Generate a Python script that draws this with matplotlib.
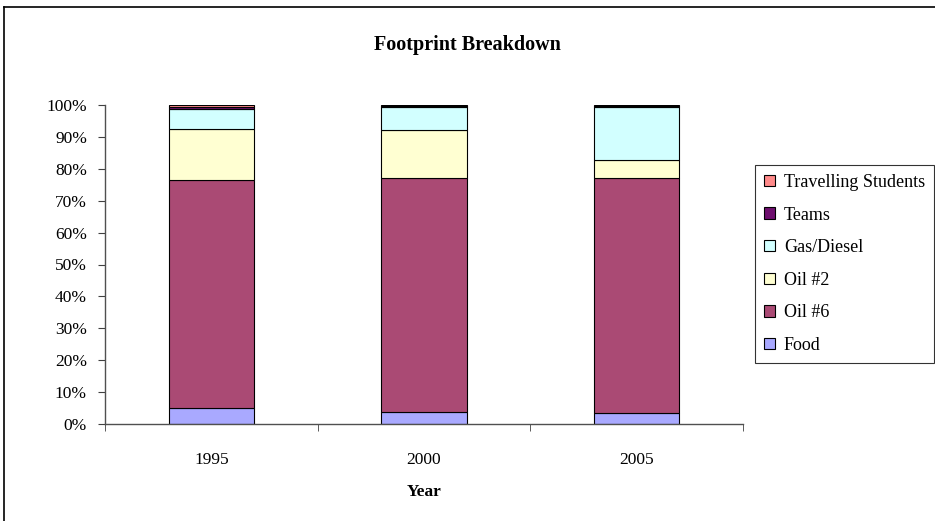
import matplotlib
matplotlib.use("Agg")
import matplotlib.pyplot as plt
from matplotlib.lines import Line2D
from matplotlib.ticker import FuncFormatter, MultipleLocator
import numpy as np

plt.rcParams['font.family'] = ['Liberation Serif', 'DejaVu Serif']

years = ["1995", "2000", "2005"]
series_names = ["Food", "Oil #6", "Oil #2", "Gas/Diesel", "Teams", "Travelling Students"]
food = [4.9, 3.9, 3.4]
oil6 = [71.7, 73.1, 73.6]
oil2 = [15.9, 15.1, 5.8]
gas_diesel = [6.3, 7.4, 16.7]
teams = [0.5, 0.2, 0.1]
travelling = [0.7, 0.3, 0.4]
colors = ["#A9A9FF", "#AA4A74", "#FFFFD2", "#D2FFFF", "#6E0F6E", "#FF8A8A"]

data = np.array([food, oil6, oil2, gas_diesel, teams, travelling], dtype=float)
shares = data / data.sum(axis=0) * 100.0

fig = plt.figure(figsize=(9.35, 5.21), dpi=100)
ax = fig.add_axes([105 / 935, 1 - 424 / 521, (743 - 105) / 935, (424 - 105) / 521])

x = np.arange(len(years))
bottom = np.zeros(len(years))
handles = []
for name, vals, col in zip(series_names, shares, colors):
    b = ax.bar(x, vals, width=0.4, bottom=bottom, color=col,
               edgecolor="black", linewidth=0.8, label=name)
    handles.append(b)
    bottom += vals

ax.set_xlim(-0.5, len(years) - 0.5)
ax.set_ylim(0, 100)
ax.yaxis.set_major_locator(MultipleLocator(10))
ax.yaxis.set_major_formatter(FuncFormatter(lambda v, p: f"{v:.0f}%"))
ax.set_xticks(x)
ax.set_xticklabels(years)
ax.set_xticks(np.arange(len(years) + 1) - 0.5, minor=True)
ax.tick_params(axis="x", which="major", length=0, pad=20, labelsize=12.5)
ax.tick_params(axis="x", which="minor", length=5, color="#404040", direction="out")
ax.tick_params(axis="y", length=5, color="#404040", labelsize=12.5, pad=8)
for side in ("top", "right"):
    ax.spines[side].set_visible(False)
for side in ("left", "bottom"):
    ax.spines[side].set_color("#505050")
    ax.spines[side].set_linewidth(1.0)

ax.set_xlabel("Year", fontweight="bold", fontsize=12.5, labelpad=12)
fig.text(467 / 935, 1 - 45 / 521, "Footprint Breakdown", ha="center", va="center",
         fontsize=14.5, fontweight="bold")

# outer chart frame
fig.add_artist(Line2D([4 / 935, 4 / 935], [0, 1 - 7 / 521], transform=fig.transFigure,
                      color="black", linewidth=1.2))
fig.add_artist(Line2D([4 / 935, 1], [1 - 7 / 521, 1 - 7 / 521], transform=fig.transFigure,
                      color="black", linewidth=1.2))

leg = fig.legend(handles[::-1], series_names[::-1], loc="upper left",
                 bbox_to_anchor=(755 / 935, 1 - 165 / 521), frameon=True,
                 fancybox=False, edgecolor="black", fontsize=13,
                 handlelength=0.6, handleheight=0.6, handletextpad=0.5,
                 labelspacing=0.86, borderpad=0.5, borderaxespad=0)
leg.get_frame().set_linewidth(0.8)

fig.savefig("out.png", dpi=100)
